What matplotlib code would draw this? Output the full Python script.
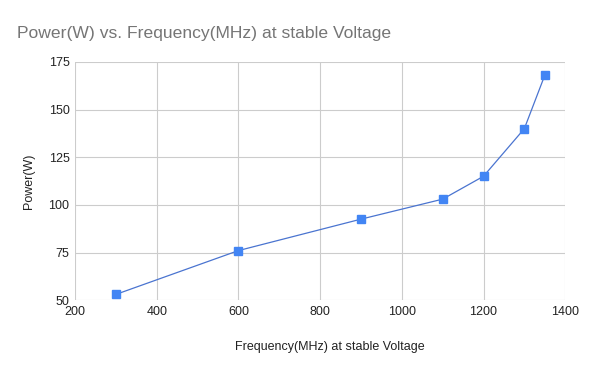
import matplotlib
matplotlib.use("Agg")
import matplotlib.pyplot as plt

freq = [300, 600, 900, 1100, 1200, 1300, 1350]
power = [53, 76, 92.5, 103, 115, 140, 168]
xticks = [200, 400, 600, 800, 1000, 1200, 1400]
yticks = [50, 75, 100, 125, 150, 175]

plt.rcParams['font.family'] = ['Liberation Sans', 'DejaVu Sans']
fig = plt.figure(figsize=(6, 3.71), dpi=100)
ax = fig.add_axes([0.125, 0.191, 0.817, 0.642])
ax.plot(freq, power, color='#4a74d0', linewidth=0.9, marker='s', markersize=5.8,
        markerfacecolor='#4285F4', markeredgecolor='#4285F4', zorder=3)
ax.set_xlim(200, 1400)
ax.set_ylim(50, 175)
ax.set_xticks(xticks)
ax.set_yticks(yticks)
ax.grid(True, color='#cccccc', linewidth=0.8)
for s in ax.spines.values():
    s.set_visible(False)
ax.tick_params(length=0, labelsize=9, colors='#222222', pad=4)
ax.set_xlabel('Frequency(MHz) at stable Voltage', fontsize=9, color='#222222', labelpad=18)
ax.xaxis.set_label_coords(0.52, -0.17)
ax.set_ylabel('Power(W)', fontsize=9, color='#222222', labelpad=10)
fig.text(0.028, 0.91, 'Power(W) vs. Frequency(MHz) at stable Voltage', fontsize=12.6,
         color='#757575', va='center', ha='left')
fig.savefig('out.png', dpi=100, facecolor='white')
